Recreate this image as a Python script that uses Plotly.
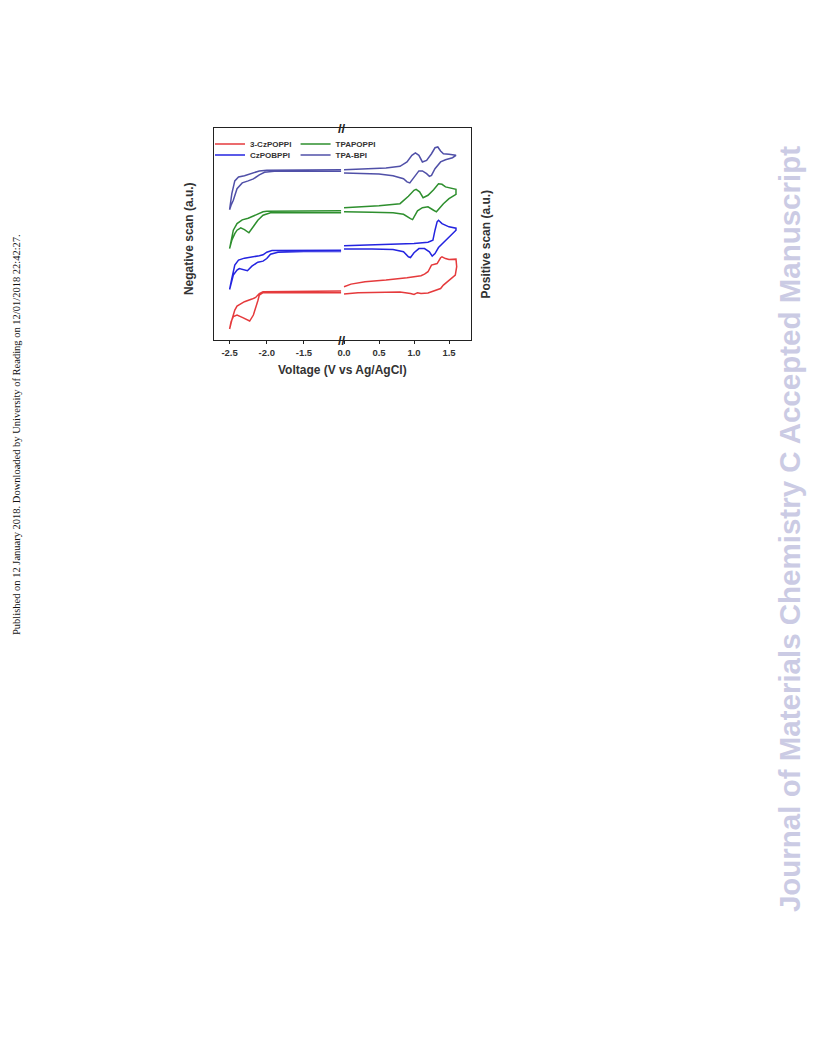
import plotly.graph_objects as go

# ---------------- data ----------------
names = ["3-CzPOPPI", "TPAPOPPI", "CzPOBPPI", "TPA-BPI"]
colors = ["#e53a3c", "#2e8f2e", "#2424e0", "#5050a8"]

# Negative scan (left panel), V vs Ag/AgCl, current in a.u. (offset)
neg_v_cz3 = [-1.0, -1.5, -2.05, -2.1, -2.15, -2.2, -2.3, -2.4, -2.43, -2.47, -2.5,
             -2.48, -2.45, -2.4, -2.33, -2.27, -2.23, -2.18, -2.15, -2.12, -2.1, -2.05, -1.5, -1.0]
neg_i_cz3 = [2.45, 2.45, 2.42, 2.33, 2.13, 2.05, 1.92, 1.7, 1.5, 1.0, 0.55,
             0.92, 1.17, 1.25, 1.13, 1.0, 0.95, 1.25, 1.58, 1.97, 2.25, 2.37, 2.37, 2.37]

neg_v_tpao = [-1.0, -1.5, -2.0, -2.05, -2.15, -2.25, -2.33, -2.4, -2.45, -2.5,
              -2.47, -2.43, -2.4, -2.35, -2.3, -2.24, -2.18, -2.12, -2.05, -1.95, -1.5, -1.0]
neg_i_tpao = [6.47, 6.47, 6.45, 6.42, 6.25, 6.1, 6.02, 5.83, 5.5, 4.58,
              5.0, 5.33, 5.5, 5.62, 5.53, 5.37, 5.67, 6.0, 6.25, 6.37, 6.38, 6.38]

neg_v_czb = [-1.0, -1.5, -1.93, -2.0, -2.05, -2.1, -2.2, -2.3, -2.38, -2.43, -2.47, -2.5,
             -2.45, -2.4, -2.37, -2.32, -2.26, -2.2, -2.12, -2.05, -2.0, -1.95, -1.85, -1.5, -1.0]
neg_i_czb = [4.5, 4.5, 4.48, 4.4, 4.27, 4.22, 4.15, 4.1, 4.0, 3.75, 3.08, 2.53,
             3.25, 3.5, 3.58, 3.53, 3.47, 3.7, 3.9, 3.95, 4.08, 4.3, 4.4, 4.43, 4.43]

neg_v_tpab = [-1.0, -1.5, -1.8, -2.0, -2.1, -2.2, -2.3, -2.38, -2.43, -2.47, -2.5,
              -2.48, -2.45, -2.4, -2.33, -2.25, -2.18, -2.1, -2.03, -1.9, -1.5, -1.0]
neg_i_tpab = [8.53, 8.53, 8.52, 8.5, 8.47, 8.33, 8.23, 8.17, 7.97, 7.33, 6.53,
              6.75, 7.0, 7.58, 7.87, 7.97, 8.07, 8.27, 8.4, 8.45, 8.45, 8.45]

# Positive scan (right panel)
pos_v_cz3 = [0.0, 0.1, 0.3, 0.6, 0.9, 1.1, 1.15, 1.2, 1.25, 1.3, 1.33, 1.38, 1.4, 1.45, 1.5, 1.6,
             1.61, 1.59, 1.5, 1.42, 1.38, 1.3, 1.2, 1.1, 1.05, 1.0, 0.95, 0.8, 0.5, 0.2, 0.0]
pos_i_cz3 = [2.67, 2.8, 2.92, 3.0, 3.12, 3.22, 3.3, 3.42, 3.75, 3.8, 3.83, 4.12, 4.17, 4.08, 4.03, 4.05,
             3.67, 3.25, 3.0, 2.75, 2.58, 2.47, 2.36, 2.33, 2.37, 2.28, 2.33, 2.4, 2.38, 2.37, 2.3]

pos_v_tpao = [0.0, 0.5, 0.8, 0.92, 1.0, 1.03, 1.08, 1.13, 1.2, 1.28, 1.35, 1.4, 1.45, 1.55, 1.6,
              1.6, 1.58, 1.5, 1.42, 1.36, 1.32, 1.28, 1.2, 1.12, 1.05, 0.98, 0.95, 0.85, 0.7, 0.4, 0.0]
pos_i_tpao = [6.63, 6.73, 6.83, 7.2, 7.5, 7.55, 7.42, 7.13, 7.25, 7.53, 7.83, 7.8, 7.67, 7.58, 7.55,
              7.3, 7.25, 7.08, 6.83, 6.58, 6.42, 6.5, 6.67, 6.63, 6.47, 6.03, 6.08, 6.3, 6.37, 6.4, 6.42]

pos_v_czb = [0.0, 0.5, 1.0, 1.2, 1.27, 1.3, 1.33, 1.35, 1.4, 1.5, 1.6,
             1.6, 1.55, 1.45, 1.35, 1.3, 1.26, 1.22, 1.15, 1.07, 1.0, 0.95, 0.92, 0.85, 0.7, 0.4, 0.0]
pos_i_czb = [4.72, 4.76, 4.83, 4.9, 5.0, 5.5, 5.92, 6.0, 5.83, 5.67, 5.6,
             5.5, 5.33, 5.0, 4.63, 4.33, 4.2, 4.42, 4.58, 4.58, 4.37, 4.13, 4.17, 4.42, 4.53, 4.56, 4.56]

pos_v_tpab = [0.0, 0.3, 0.6, 0.8, 0.9, 0.97, 1.02, 1.07, 1.12, 1.18, 1.25, 1.3, 1.34, 1.38, 1.42, 1.5, 1.6,
              1.55, 1.45, 1.38, 1.3, 1.25, 1.22, 1.18, 1.12, 1.07, 1.0, 0.94, 0.9, 0.85, 0.7, 0.5, 0.0]
pos_i_tpab = [8.53, 8.57, 8.62, 8.7, 8.92, 9.25, 9.37, 9.25, 8.92, 9.0, 9.33, 9.63, 9.67, 9.47, 9.33, 9.3, 9.25,
              9.13, 9.03, 8.92, 8.58, 8.25, 8.2, 8.33, 8.47, 8.47, 8.17, 7.87, 7.92, 8.08, 8.23, 8.32, 8.37]

neg_tick_vals = [-2.5, -2.0, -1.5]
neg_tick_text = ["-2.5", "-2.0", "-1.5"]
pos_tick_vals = [0.0, 0.5, 1.0, 1.5]
pos_tick_text = ["0.0", "0.5", "1.0", "1.5"]

neg_sets = [(neg_v_cz3, neg_i_cz3), (neg_v_tpao, neg_i_tpao), (neg_v_czb, neg_i_czb), (neg_v_tpab, neg_i_tpab)]
pos_sets = [(pos_v_cz3, pos_i_cz3), (pos_v_tpao, pos_i_tpao), (pos_v_czb, pos_i_czb), (pos_v_tpab, pos_i_tpab)]
legend_ids = ["legend", "legend2", "legend3", "legend4"]

# ---------------- figure ----------------
# page is 816x1056 with the default 8px body margin around the figure
OFF = 8
W, H = 800, 1040
fig = go.Figure()

for k in range(4):
    fig.add_trace(go.Scatter(x=neg_sets[k][0], y=neg_sets[k][1], mode="lines", name=names[k],
                             line=dict(color=colors[k], width=1.5), xaxis="x", yaxis="y",
                             legend=legend_ids[k], legendgroup=names[k], showlegend=True))
    fig.add_trace(go.Scatter(x=pos_sets[k][0], y=pos_sets[k][1], mode="lines", name=names[k],
                             line=dict(color=colors[k], width=1.5), xaxis="x2", yaxis="y2",
                             legendgroup=names[k], showlegend=False))

def px(x):
    return (x - OFF) / W

def py(y):
    return 1 - (y - OFF) / H

left, brk, right = 211, 339.5, 469
top, bottom = 128, 340

tickfont = dict(family="Liberation Sans, Arial", size=9.5, color="#333", weight="bold")
axis_common = dict(showline=True, linecolor="#222", linewidth=1.3, showgrid=False, zeroline=False,
                   ticks="outside", ticklen=3, tickwidth=1, tickcolor="#222", tickfont=tickfont)

fig.update_layout(
    width=W, height=H, margin=dict(l=0, r=0, t=0, b=0),
    paper_bgcolor="white", plot_bgcolor="white",
    xaxis=dict(domain=[px(left), px(brk)], range=[-2.71, -0.99], anchor="y", mirror=True,
               tickvals=neg_tick_vals, ticktext=neg_tick_text, **axis_common),
    xaxis2=dict(domain=[px(brk), px(right)], range=[-0.031, 1.81], anchor="y2", mirror=True,
                tickvals=pos_tick_vals, ticktext=pos_tick_text, **axis_common),
    yaxis=dict(domain=[py(bottom), py(top)], range=[0, 10.62], anchor="x", showline=True,
               linecolor="#222", linewidth=1.3, showgrid=False, zeroline=False,
               showticklabels=False, ticks=""),
    yaxis2=dict(domain=[py(bottom), py(top)], range=[0, 10.62], anchor="x2", side="right",
                matches="y", showline=True, linecolor="#222", linewidth=1.3, showgrid=False,
                zeroline=False, showticklabels=False, ticks=""),
    showlegend=True,
)

leg_font = dict(family="Liberation Sans, Arial", size=8, color="#333", weight="bold")
leg_pos = [(207, 144), (293, 144), (207, 155), (293, 155)]
for k, lid in enumerate(legend_ids):
    fig.update_layout(**{lid: dict(x=px(leg_pos[k][0]), y=py(leg_pos[k][1]), xanchor="left",
                                   yanchor="middle", bgcolor="rgba(0,0,0,0)", font=leg_font,
                                   itemwidth=30, borderwidth=0)})

title_font = dict(family="Liberation Sans, Arial", size=12, color="#333", weight="bold")
brk_font = dict(family="Liberation Sans, Arial", size=13, color="#222", weight="bold")
ann = [
    dict(text="Voltage (V vs Ag/AgCl)", x=px(340), y=py(370), font=title_font),
    dict(text="Negative scan (a.u.)", x=px(186), y=py(239), textangle=-90, font=title_font),
    dict(text="Positive scan (a.u.)", x=px(484), y=py(244), textangle=-90, font=title_font),
    dict(text="//", x=px(brk), y=py(top), font=brk_font),
    dict(text="//", x=px(brk), y=py(bottom), font=brk_font),
    dict(text="Journal of Materials Chemistry C Accepted Manuscript", x=px(789), y=py(529),
         textangle=-90, font=dict(family="Liberation Sans, Arial", size=29.5, color="#cbcbe4",
                                  weight="bold")),
    dict(text="Published on 12 January 2018. Downloaded by University of Reading on 12/01/2018 22:42:27.",
         x=px(12), y=py(434), textangle=-90,
         font=dict(family="Liberation Serif, Times New Roman", size=10.5, color="#111")),
]
for a in ann:
    a.update(xref="paper", yref="paper", showarrow=False, xanchor="center", yanchor="middle")
    fig.add_annotation(**a)

fig.write_html("out.html")
